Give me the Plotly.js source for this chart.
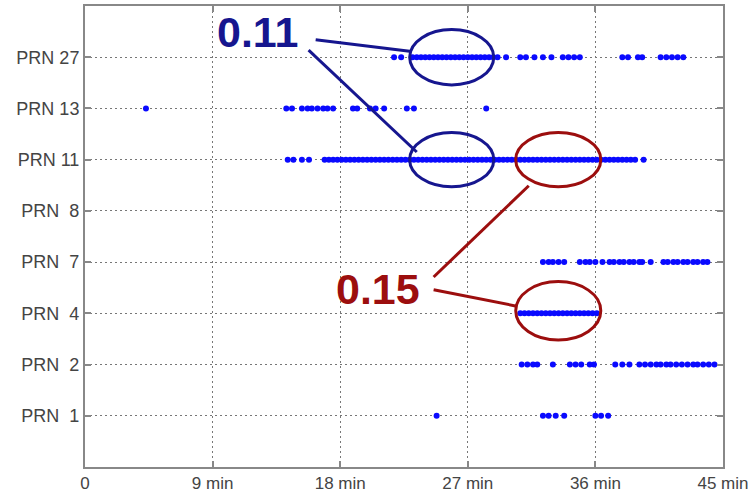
<!DOCTYPE html>
<html>
<head>
<meta charset="utf-8">
<script src="https://cdn.plot.ly/plotly-3.0.1.min.js"></script>
<style>
  html, body { margin: 0; padding: 0; background: #fff; }
  #chart { width: 753px; height: 495px; }
</style>
</head>
<body>
<div id="chart"></div>
<script>
// Row labels (bottom to top) and their numeric positions
const rowLabels = ["PRN\u00a0\u00a01", "PRN\u00a0\u00a02", "PRN\u00a0\u00a04", "PRN\u00a0\u00a07", "PRN\u00a0\u00a08", "PRN 11", "PRN 13", "PRN 27"];
const rowPos = [1, 2, 3, 4, 5, 6, 7, 8];

// X ticks (minutes)
const xTickVals = [0, 9, 18, 27, 36, 45];
const xTickText = ["0", "9 min", "18 min", "27 min", "36 min", "45 min"];

// Observation times (minutes) per satellite
const prn1 = [24.8, 32.3, 32.7, 33.2, 33.8, 36.0, 36.4, 36.9];
const prn2 = [30.8, 31.2, 31.6, 31.9, 33.0, 34.2, 34.6, 35.0, 35.6, 35.9, 37.4, 37.9, 38.4,
              39.1, 39.5, 39.9, 40.3, 40.6, 41.0, 41.3, 41.7, 42.1, 42.5, 42.9, 43.2, 43.6, 44.0, 44.4];
const prn4 = [30.7, 31.0, 31.3, 31.6, 31.9, 32.2, 32.5, 32.8, 33.1, 33.4, 33.7, 34.0, 34.3,
              34.6, 34.9, 35.2, 35.5, 35.8, 36.1];
const prn7 = [32.3, 32.7, 33.0, 33.4, 33.8, 34.9, 35.3, 35.6, 36.0, 36.5, 37.0, 37.3,
              37.7, 38.0, 38.4, 38.7, 39.1, 39.3, 39.9, 40.8, 41.1, 41.5, 41.8, 42.2, 42.5,
              42.9, 43.2, 43.6, 43.9];
const prn8 = [];
const prn11 = [14.3, 14.7, 15.3, 15.8, 16.9, 17.2, 17.5, 17.8, 18.1, 18.4, 18.7, 19.0, 19.3,
               19.6, 19.9, 20.2, 20.5, 20.8, 21.1, 21.4, 21.7, 22.0, 22.3, 22.6, 22.9, 23.2,
               23.5, 23.8, 24.1, 24.4, 24.7, 25.0, 25.3, 25.6, 25.9, 26.2, 26.5, 26.8, 27.1,
               27.4, 27.7, 28.0, 28.3, 28.6, 28.9, 29.2, 29.5, 29.8, 30.1, 30.4, 30.7, 31.0,
               31.3, 31.6, 31.9, 32.2, 32.5, 32.8, 33.1, 33.4, 33.7, 34.0, 34.3, 34.6, 34.9,
               35.2, 35.5, 35.8, 36.1, 36.4, 36.7, 37.0, 37.3, 37.6, 37.9, 38.2, 38.5, 38.8, 39.4];
const prn13 = [4.3, 14.2, 14.6, 15.3, 15.7, 16.0, 16.4, 16.8, 17.1, 17.5, 18.9, 19.2,
               20.1, 20.5, 21.1, 22.7, 23.2, 28.3];
const prn27 = [21.8, 22.3, 23.1, 23.4, 23.7, 24.0, 24.3, 24.6, 24.9, 25.2, 25.5, 25.8, 26.1,
               26.4, 26.7, 27.0, 27.3, 27.6, 27.9, 28.2, 28.5, 28.8, 29.1, 29.7, 30.7, 31.1,
               31.7, 32.3, 32.9, 33.7, 34.1, 34.5, 34.9, 37.9, 38.3, 39.0, 39.3, 40.6, 41.0,
               41.4, 41.8, 42.2];

const rows = [prn1, prn2, prn4, prn7, prn8, prn11, prn13, prn27];

const traces = rows.map((xs, i) => ({
  type: "scatter",
  mode: "markers",
  x: xs,
  y: xs.map(() => rowPos[i]),
  marker: { color: "#0a0aff", size: 6 },
  hoverinfo: "x+y",
  showlegend: false
}));

const blue = "#16168f";
const red = "#9c0e0e";

const layout = {
  width: 753,
  height: 495,
  margin: { l: 85, r: 30, t: 6, b: 28 },
  paper_bgcolor: "#ffffff",
  plot_bgcolor: "#ffffff",
  font: { family: "Liberation Sans, Arial, sans-serif", size: 17, color: "#444" },
  showlegend: false,
  xaxis: {
    range: [0, 45],
    tickvals: xTickVals,
    ticktext: xTickText,
    showgrid: true,
    gridcolor: "#777",
    griddash: "2px,3px",
    gridwidth: 1.2,
    zeroline: false,
    showline: true,
    linecolor: "#888",
    linewidth: 2,
    mirror: "ticks",
    ticks: "inside",
    ticklen: 6,
    tickcolor: "#888",
    tickwidth: 2,
    tickfont: { size: 17, color: "#444" },
    fixedrange: true
  },
  yaxis: {
    range: [0, 9],
    tickvals: rowPos,
    ticktext: rowLabels,
    showgrid: true,
    gridcolor: "#777",
    griddash: "2px,3px",
    gridwidth: 1.2,
    zeroline: false,
    showline: true,
    linecolor: "#888",
    linewidth: 2,
    mirror: "ticks",
    ticks: "inside",
    ticklen: 6,
    tickcolor: "#888",
    tickwidth: 2,
    tickfont: { size: 18, color: "#444" },
    fixedrange: true
  },
  shapes: [
    { type: "circle", xref: "x", yref: "y", x0: 22.9, x1: 28.83, y0: 7.46, y1: 8.54,
      line: { color: blue, width: 3 } },
    { type: "circle", xref: "x", yref: "y", x0: 22.9, x1: 28.83, y0: 5.47, y1: 6.53,
      line: { color: blue, width: 3 } },
    { type: "circle", xref: "x", yref: "y", x0: 30.38, x1: 36.38, y0: 5.47, y1: 6.53,
      line: { color: red, width: 3 } },
    { type: "circle", xref: "x", yref: "y", x0: 30.38, x1: 36.38, y0: 2.48, y1: 3.62,
      line: { color: red, width: 3 } },
    { type: "line", xref: "x", yref: "y", x0: 16.27, y0: 8.34, x1: 23.04, y1: 8.11,
      line: { color: blue, width: 3 } },
    { type: "line", xref: "x", yref: "y", x0: 15.77, y0: 8.14, x1: 23.4, y1: 6.15,
      line: { color: blue, width: 3 } },
    { type: "line", xref: "x", yref: "y", x0: 24.59, y0: 3.71, x1: 31.3, y1: 5.49,
      line: { color: red, width: 3 } },
    { type: "line", xref: "x", yref: "y", x0: 24.59, y0: 3.46, x1: 30.45, y1: 3.14,
      line: { color: red, width: 3 } }
  ],
  annotations: [
    { text: "<b>0.11</b>", x: 12.17, y: 8.5, xref: "x", yref: "y", showarrow: false,
      font: { family: "Liberation Sans, Arial, sans-serif", size: 43, color: blue } },
    { text: "<b>0.15</b>", x: 20.64, y: 3.48, xref: "x", yref: "y", showarrow: false,
      font: { family: "Liberation Sans, Arial, sans-serif", size: 43, color: red } }
  ]
};

Plotly.newPlot("chart", traces, layout, { displayModeBar: false, staticPlot: true });
</script>
</body>
</html>
